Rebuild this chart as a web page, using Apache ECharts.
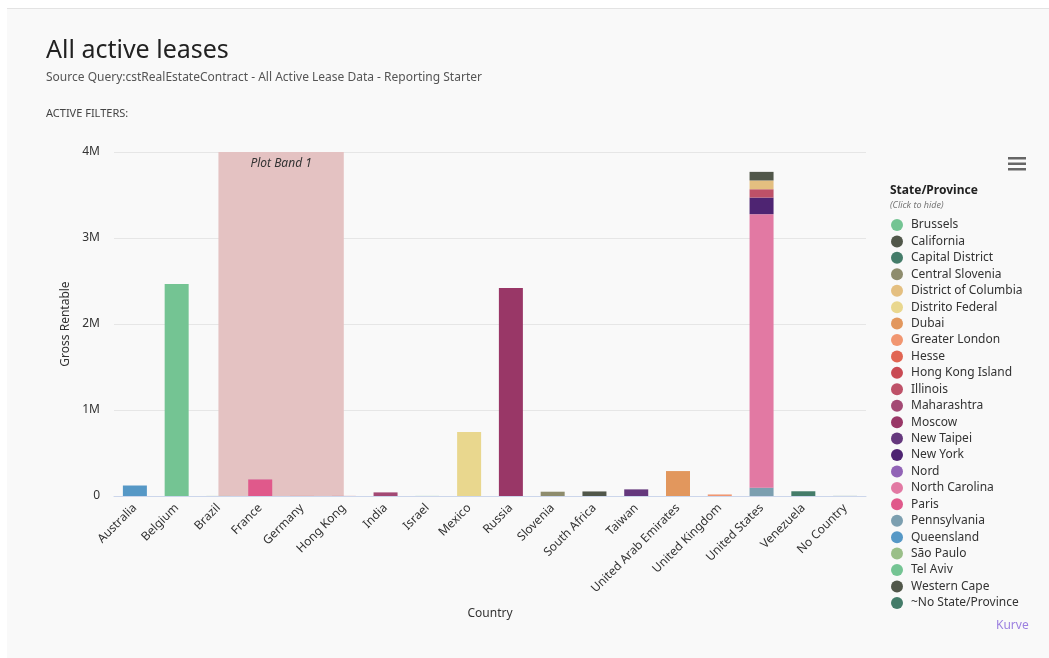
<!DOCTYPE html>
<html>
<head>
<meta charset="utf-8">
<script src="https://cdn.jsdelivr.net/npm/echarts@6/dist/echarts.min.js"></script>
<style>
html,body{margin:0;padding:0;background:#fff;width:1049px;height:658px;overflow:hidden;}
#panel{position:absolute;left:7px;top:8px;width:1042px;height:650px;background:#f9f9f9;border-top:1px solid #e3e3e3;}
#chart{position:absolute;left:0;top:0;width:1049px;height:658px;}
</style>
</head>
<body>
<div id="panel"></div>
<div id="chart"></div>
<script>
const countries = ['Australia','Belgium','Brazil','France','Germany','Hong Kong','India','Israel','Mexico','Russia','Slovenia','South Africa','Taiwan','United Arab Emirates','United Kingdom','United States','Venezuela','No Country'];
const states = ['Brussels','California','Capital District','Central Slovenia','District of Columbia','Distrito Federal','Dubai','Greater London','Hesse','Hong Kong Island','Illinois','Maharashtra','Moscow','New Taipei','New York','Nord','North Carolina','Paris','Pennsylvania','Queensland','São Paulo','Tel Aviv','Western Cape','~No State/Province'];
const stateCountry = ['Belgium','United States','Venezuela','Slovenia','United States','Mexico','United Arab Emirates','United Kingdom','Germany','Hong Kong','United States','India','Russia','Taiwan','United States','France','United States','France','United States','Australia','Brazil','Israel','South Africa','No Country'];
const stateValue = [2465000,100000,55000,50000,102000,744000,290000,18000,1000,1000,97000,42000,2420000,77000,193000,1000,3180000,192000,97000,122000,1000,1000,53000,1000];
const yTickValues = [0,1000000,2000000,3000000,4000000];
const plotBand = {from:'Brazil', to:'Hong Kong', label:'Plot Band 1'};

const palette = ['#74c493','#51574a','#447c69','#8e8c6d','#e4bf80','#e9d78e','#e2975d','#f19670','#e16552','#c94a53','#be5168','#a34974','#993767','#65387d','#4e2472','#9163b6','#e279a3','#e0598b','#7c9fb0','#5698c6','#9abf88'];
const FONT = '"Noto Sans", sans-serif';

const barSeries = states.map((s,i)=>({
  name:s, type:'bar', stack:'total', barWidth:24, z:3,
  itemStyle:{color:palette[i%palette.length], borderWidth:0},
  emphasis:{disabled:true},
  data: countries.map(c => c===stateCountry[i] ? stateValue[i] : null)
})).reverse();

const bandSeries = {
  type:'line', name:'band', data:[], z:1, silent:true,
  markArea:{
    silent:true,
    itemStyle:{color:'rgba(228,194,194,1)'},
    label:{show:true, position:'insideTop', distance:6, fontStyle:'italic', fontSize:12, color:'#333', fontFamily:FONT},
    data:[[{xAxis:plotBand.from, name:plotBand.label},{xAxis:plotBand.to}]]
  }
};

const chart = echarts.init(document.getElementById('chart'), null, {renderer:'canvas'});
chart.setOption({
  backgroundColor:'transparent',
  animation:false,
  textStyle:{fontFamily:FONT},
  title:[
    {text:'All active leases', left:41, top:33, textStyle:{fontSize:25, fontWeight:'normal', color:'#222', fontFamily:FONT}},
    {text:'Source Query:cstRealEstateContract - All Active Lease Data - Reporting Starter', left:41, top:67, textStyle:{fontSize:12, fontWeight:'normal', color:'#555', fontFamily:FONT}},
    {text:'ACTIVE FILTERS:', left:41, top:103, textStyle:{fontSize:11, fontWeight:'normal', color:'#444', fontFamily:FONT}}
  ],
  grid:{left:114, right:183, top:152, bottom:162, containLabel:false},
  xAxis:{
    type:'category', data:countries,
    name:'Country', nameLocation:'middle', nameGap:112,
    nameTextStyle:{fontSize:12, color:'#333', fontFamily:FONT},
    axisLine:{lineStyle:{color:'#ccd6eb'}},
    axisTick:{show:false},
    axisLabel:{rotate:45, interval:0, fontSize:12, color:'#333', margin:10, fontFamily:FONT}
  },
  yAxis:{
    type:'value', min:0, max:4000000, interval:1000000,
    name:'Gross Rentable', nameLocation:'middle', nameGap:34,
    nameTextStyle:{fontSize:12, color:'#333', fontFamily:FONT},
    axisLine:{show:false}, axisTick:{show:false},
    axisLabel:{fontSize:12, color:'#333', margin:14, fontFamily:FONT,
      formatter: v => yTickValues.includes(v) ? (v===0 ? '0' : (v/1000000)+'M') : ''},
    splitLine:{lineStyle:{color:'#e6e6e6'}}
  },
  legend:{
    orient:'vertical', left:891, top:219, padding:0,
    data:states, icon:'circle', itemWidth:12, itemHeight:12, itemGap:4.43,
    textStyle:{fontSize:12, color:'#333', padding:[0,0,0,3], fontFamily:FONT},
    selectedMode:true
  },
  graphic:[
    {type:'text', left:890, top:185, style:{text:'State/Province', fill:'#222', font:'bold 12px '+FONT}},
    {type:'text', left:890, top:201, style:{text:'(Click to hide)', fill:'#777', font:'italic 9px '+FONT}},
    {type:'rect', shape:{x:1008, y:157, width:18, height:2.5}, style:{fill:'#666'}},
    {type:'rect', shape:{x:1008, y:162.5, width:18, height:2.5}, style:{fill:'#666'}},
    {type:'rect', shape:{x:1008, y:168, width:18, height:2.5}, style:{fill:'#666'}},
    {type:'text', left:996, top:620, style:{text:'Kurve', fill:'#9c80e0', font:'12px '+FONT}}
  ],
  series:[bandSeries].concat(barSeries)
});
</script>
</body>
</html>
